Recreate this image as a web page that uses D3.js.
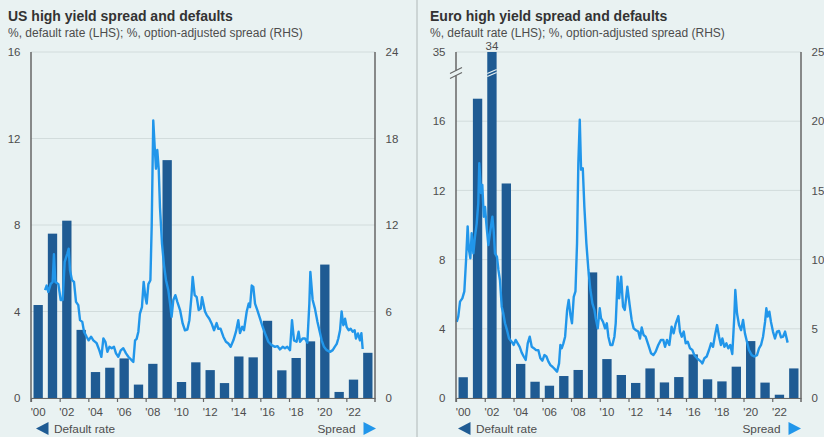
<!DOCTYPE html>
<html><head><meta charset="utf-8">
<script src="https://cdn.jsdelivr.net/npm/d3@7"></script>
<style>
html,body{margin:0;padding:0;background:#e9f2f2;}
svg{display:block;font-family:"Liberation Sans",Arial,sans-serif;}
</style></head><body>
<svg id="chart" width="824" height="437"></svg>
<script>
// ---------- DATA ----------
const years = [2000,2001,2002,2003,2004,2005,2006,2007,2008,2009,2010,2011,2012,2013,2014,2015,2016,2017,2018,2019,2020,2021,2022,2023];
const xTickYears = [2000,2002,2004,2006,2008,2010,2012,2014,2016,2018,2020,2022];
const xTickLabels = ["'00","'02","'04","'06","'08","'10","'12","'14","'16","'18","'20","'22"];

const usDefault = [4.3,7.6,8.2,3.15,1.2,1.4,1.83,0.62,1.58,11.0,0.74,1.65,1.29,0.69,1.92,1.88,3.57,1.28,1.85,2.62,6.17,0.28,0.85,2.09];
const euroDefault = [1.2,17.3,34,12.4,1.97,0.94,0.71,1.27,1.62,7.26,2.25,1.33,0.87,1.71,0.9,1.21,2.52,1.08,0.96,1.81,3.29,0.89,0.19,1.71];

// [decimal year, option-adjusted spread %]
const usSpread = [
[2000.98,7.48],[2001.09,7.8],[2001.21,7.36],[2001.37,7.9],[2001.51,8.05],[2001.60,9.97],[2001.70,8.05],[2001.91,7.9],
[2002.07,6.8],[2002.21,6.8],[2002.35,9.44],[2002.53,10.0],[2002.63,10.36],[2002.72,8.86],[2002.86,8.17],[2003.00,8.05],
[2003.14,6.67],[2003.30,6.44],[2003.42,5.4],[2003.58,5.28],[2003.70,4.6],[2003.88,4.25],[2004.02,4.0],[2004.19,4.25],
[2004.35,4.0],[2004.58,3.8],[2004.77,3.3],[2004.91,2.86],[2005.05,4.13],[2005.19,3.9],[2005.33,3.2],[2005.47,3.55],
[2005.63,3.45],[2005.79,3.55],[2005.93,3.1],[2006.09,2.86],[2006.26,3.3],[2006.44,3.45],[2006.63,3.1],[2006.79,2.86],
[2007.02,2.63],[2007.14,2.5],[2007.26,4.0],[2007.37,4.1],[2007.49,4.6],[2007.60,5.86],[2007.74,6.3],[2007.86,8.05],
[2007.98,7.0],[2008.07,6.55],[2008.19,7.9],[2008.33,8.17],[2008.42,11.9],[2008.53,19.25],[2008.63,17.4],[2008.72,15.9],
[2008.81,17.2],[2008.91,15.9],[2009.00,13.2],[2009.14,10.7],[2009.28,9.2],[2009.42,8.17],[2009.58,7.48],[2009.70,6.55],
[2009.81,5.63],[2009.93,6.8],[2010.07,7.13],[2010.21,6.67],[2010.40,6.1],[2010.58,5.17],[2010.74,4.7],[2010.91,4.75],
[2011.05,5.4],[2011.19,7.0],[2011.28,8.4],[2011.42,7.13],[2011.56,7.0],[2011.70,6.1],[2011.84,6.2],[2011.93,7.0],
[2012.14,6.0],[2012.26,5.75],[2012.44,5.5],[2012.60,5.17],[2012.77,4.7],[2012.95,5.2],[2013.07,4.8],[2013.23,4.8],
[2013.42,4.25],[2013.60,3.9],[2013.77,3.78],[2013.93,3.55],[2014.12,4.0],[2014.30,4.6],[2014.46,5.4],[2014.58,4.5],
[2014.74,4.94],[2014.86,4.7],[2015.05,6.0],[2015.19,6.55],[2015.28,6.3],[2015.40,7.8],[2015.51,7.7],[2015.63,6.55],
[2015.79,6.1],[2015.98,5.5],[2016.16,4.94],[2016.33,4.48],[2016.56,3.9],[2016.79,3.67],[2017.02,3.55],[2017.19,3.6],
[2017.37,3.37],[2017.56,3.55],[2017.72,3.45],[2017.88,3.55],[2018.07,3.32],[2018.21,5.4],[2018.35,4.0],[2018.53,3.9],
[2018.67,4.6],[2018.77,3.9],[2018.95,4.13],[2019.12,4.13],[2019.28,3.83],[2019.42,6.55],[2019.49,8.75],[2019.65,6.8],
[2019.81,6.2],[2019.98,5.3],[2020.12,4.7],[2020.28,4.0],[2020.44,3.55],[2020.63,3.32],[2020.86,3.2],[2021.05,3.32],
[2021.19,3.55],[2021.33,3.75],[2021.44,4.13],[2021.56,4.7],[2021.67,6.0],[2021.79,5.05],[2021.91,5.5],[2022.02,4.94],
[2022.16,4.7],[2022.30,4.8],[2022.44,4.6],[2022.58,4.7],[2022.67,4.13],[2022.81,4.48],[2022.95,4.0],[2023.05,4.5],[2023.14,3.4]
];

const euroSpread = [
[2000.05,5.5],[2000.16,5.9],[2000.28,6.96],[2000.44,7.2],[2000.58,7.7],[2000.70,9.97],[2000.81,12.4],[2000.90,10.7],
[2001.00,10.1],[2001.09,11.9],[2001.21,10.45],[2001.32,11.66],[2001.44,12.6],[2001.55,14.07],[2001.62,16.96],[2001.74,14.8],
[2001.83,15.4],[2001.93,13.1],[2002.02,13.8],[2002.11,12.6],[2002.25,11.05],[2002.39,12.1],[2002.53,13.1],[2002.62,12.1],
[2002.71,10.45],[2002.85,10.2],[2002.95,9.25],[2003.06,8.5],[2003.18,6.6],[2003.29,6.1],[2003.41,5.4],[2003.55,4.9],
[2003.69,4.3],[2003.87,4.07],[2004.01,3.83],[2004.15,4.2],[2004.29,3.95],[2004.43,3.7],[2004.57,3.28],[2004.71,3.0],
[2004.85,2.75],[2004.99,3.95],[2005.13,4.43],[2005.27,3.7],[2005.41,3.6],[2005.55,3.47],[2005.73,3.45],[2005.87,2.87],
[2006.01,2.7],[2006.15,3.1],[2006.29,3.0],[2006.43,2.63],[2006.57,2.38],[2006.71,2.26],[2006.89,2.07],[2007.03,1.9],
[2007.17,2.5],[2007.26,3.83],[2007.36,3.6],[2007.47,3.95],[2007.59,4.43],[2007.73,6.36],[2007.84,7.08],[2007.96,6.0],
[2008.07,5.4],[2008.19,7.3],[2008.31,7.7],[2008.42,11.17],[2008.51,16.96],[2008.61,20.1],[2008.70,16.5],[2008.82,16.6],
[2008.93,13.8],[2009.07,11.17],[2009.21,9.25],[2009.35,7.8],[2009.49,6.84],[2009.63,6.36],[2009.72,5.76],[2009.86,5.03],
[2010.00,6.48],[2010.09,5.76],[2010.23,5.5],[2010.37,5.03],[2010.49,5.4],[2010.60,4.43],[2010.74,3.83],[2010.88,3.83],
[2011.02,4.43],[2011.11,5.4],[2011.25,8.77],[2011.35,7.2],[2011.49,8.77],[2011.62,6.6],[2011.74,6.36],[2011.92,8.04],
[2012.08,6.72],[2012.22,5.64],[2012.36,5.03],[2012.52,4.9],[2012.68,4.8],[2012.80,4.3],[2012.92,5.1],[2013.05,4.55],
[2013.19,4.43],[2013.38,3.83],[2013.57,3.23],[2013.73,3.1],[2013.89,3.35],[2014.07,3.83],[2014.26,4.2],[2014.42,4.2],
[2014.54,3.7],[2014.68,4.2],[2014.84,3.83],[2015.00,5.15],[2015.14,4.67],[2015.28,5.35],[2015.47,5.92],[2015.58,4.8],
[2015.70,4.43],[2015.84,4.8],[2015.98,3.95],[2016.12,4.07],[2016.28,3.59],[2016.44,3.47],[2016.58,3.1],[2016.77,2.87],
[2016.90,2.75],[2017.04,2.63],[2017.14,2.5],[2017.28,2.87],[2017.44,3.0],[2017.60,3.47],[2017.74,3.95],[2017.88,3.7],
[2018.02,4.55],[2018.16,5.27],[2018.30,4.43],[2018.43,3.83],[2018.53,4.3],[2018.67,3.7],[2018.81,3.95],[2018.94,3.59],
[2019.08,3.83],[2019.22,3.18],[2019.36,5.88],[2019.43,7.8],[2019.55,6.1],[2019.69,5.27],[2019.83,4.9],[2019.97,5.64],
[2020.10,4.67],[2020.24,4.07],[2020.38,3.47],[2020.57,3.1],[2020.75,3.0],[2020.94,3.1],[2021.08,3.59],[2021.22,3.83],
[2021.36,4.43],[2021.50,5.5],[2021.59,6.48],[2021.68,5.88],[2021.80,6.24],[2021.91,5.5],[2022.05,4.8],[2022.19,4.3],
[2022.33,4.8],[2022.47,4.85],[2022.61,4.38],[2022.75,4.43],[2022.89,4.8],[2022.98,4.4],[2023.07,4.0]
];

const usLeftTicks = [0,4,8,12,16];
const usLeftTickLabels = ["0","4","8","12","16"];
const usRightTicks = [0,6,12,18,24];
const euroLeftTicks = [0,4,8,12,16,20];
const euroLeftTickLabels = ["0","4","8","12","16","35"];
const euroRightTicks = [0,5,10,15,20,25];

// ---------- STYLE ----------
const BG = "#e9f2f2", BAR = "#1f5b93", LINE = "#2196ea", AXIS = "#666", GRID = "#d2dcdc", TXT = "#4d4d4d";

const svg = d3.select("#chart");
svg.append("rect").attr("width",824).attr("height",437).attr("fill",BG);

// divider
svg.append("line").attr("x1",417).attr("x2",417).attr("y1",0).attr("y2",437)
  .attr("stroke","#b0b8b8").attr("stroke-width",1);

function panel(cfg){
  const g = svg.append("g");
  const top = 52, bot = 398;
  const xB = d3.scaleBand().domain(years).range([cfg.x0,cfg.x1]).paddingInner(0.35).paddingOuter(0.175);
  const xL = d3.scaleLinear().domain([2000,2024]).range([cfg.x0,cfg.x1]);
  const yL = d3.scaleLinear().domain([0,cfg.leftMax]).range([bot,top]);
  const yR = d3.scaleLinear().domain([0,cfg.rightMax]).range([bot,top]);

  // titles
  g.append("text").attr("x",cfg.tx).attr("y",21).attr("font-size",14).attr("font-weight","bold")
    .attr("fill","#333").text(cfg.title);
  g.append("text").attr("x",cfg.tx).attr("y",36.5).attr("font-size",12).attr("fill","#4d4d4d")
    .text("%, default rate (LHS); %, option-adjusted spread (RHS)");

  // gridlines
  g.append("g").selectAll("line").data(cfg.leftTicks).join("line")
    .attr("x1",cfg.x0).attr("x2",cfg.x1).attr("y1",d=>yL(d)).attr("y2",d=>yL(d))
    .attr("stroke",GRID).attr("stroke-width",1);

  // bars
  g.append("g").selectAll("rect").data(cfg.bars).join("rect")
    .attr("x",(d,i)=>xB(years[i])).attr("width",xB.bandwidth())
    .attr("y",d=>yL(Math.min(d,cfg.leftMax))).attr("height",d=>bot-yL(Math.min(d,cfg.leftMax)))
    .attr("fill",BAR);

  // line
  const line = d3.line().x(d=>xL(d[0])).y(d=>yR(d[1]));
  g.append("path").datum(cfg.spread).attr("d",line).attr("fill","none")
    .attr("stroke",LINE).attr("stroke-width",2.4).attr("stroke-linejoin","round");

  // left axis labels
  const la = g.append("g").attr("transform",`translate(${cfg.x0},0)`)
    .call(d3.axisLeft(yL).tickValues(cfg.leftTicks).tickFormat((d,i)=>cfg.leftLabels[i]).tickSize(0).tickPadding(10.5));
  la.select(".domain").remove();
  la.selectAll("text").attr("font-size",11.5).attr("fill",TXT).attr("font-family",null);
  // right axis labels
  const ra = g.append("g").attr("transform",`translate(${cfg.x1},0)`)
    .call(d3.axisRight(yR).tickValues(cfg.rightTicks).tickSize(0).tickPadding(10.5));
  ra.select(".domain").remove();
  ra.selectAll("text").attr("font-size",11.5).attr("fill",TXT).attr("font-family",null);

  // axis lines
  if(cfg.breakAxis){
    g.append("line").attr("x1",cfg.x0).attr("x2",cfg.x0).attr("y1",top).attr("y2",70.5).attr("stroke",AXIS).attr("stroke-width",1.5);
    g.append("line").attr("x1",cfg.x0).attr("x2",cfg.x0).attr("y1",75.5).attr("y2",402).attr("stroke",AXIS).attr("stroke-width",1.5);
    g.append("line").attr("x1",cfg.x0-6).attr("x2",cfg.x0+6).attr("y1",73.5).attr("y2",67.5).attr("stroke",AXIS).attr("stroke-width",1.2);
    g.append("line").attr("x1",cfg.x0-6).attr("x2",cfg.x0+6).attr("y1",78.5).attr("y2",72.5).attr("stroke",AXIS).attr("stroke-width",1.2);
    // break on the clipped bar
    cfg.bars.forEach((v,i)=>{
      if(v>cfg.leftMax){
        const bx = xB(years[i]), bw = xB.bandwidth();
        g.append("line").attr("x1",bx).attr("x2",bx+bw).attr("y1",73.5).attr("y2",69.5).attr("stroke",BG).attr("stroke-width",1.3);
        g.append("line").attr("x1",bx).attr("x2",bx+bw).attr("y1",76.5).attr("y2",72.5).attr("stroke",BG).attr("stroke-width",1.3);
        g.append("text").attr("x",bx+bw/2).attr("y",49.5).attr("text-anchor","middle")
          .attr("font-size",11.5).attr("fill",TXT).text(v);
      }
    });
  } else {
    g.append("line").attr("x1",cfg.x0).attr("x2",cfg.x0).attr("y1",top).attr("y2",402).attr("stroke",AXIS).attr("stroke-width",1.5);
  }
  g.append("line").attr("x1",cfg.x1).attr("x2",cfg.x1).attr("y1",top).attr("y2",402).attr("stroke",AXIS).attr("stroke-width",1.5);

  // x axis: baseline + ticks
  const xa = g.append("g").attr("transform",`translate(0,${bot})`)
    .call(d3.axisBottom(xL).tickValues(xTickYears).tickFormat("").tickSize(4).tickSizeOuter(0));
  xa.select(".domain").attr("stroke",AXIS).attr("stroke-width",1.2);
  xa.selectAll(".tick line").attr("stroke",AXIS).attr("stroke-width",1.2);
  // x labels at band centres
  const xl = g.append("g").attr("transform",`translate(0,${bot})`)
    .call(d3.axisBottom(xB).tickValues(xTickYears).tickFormat((d,i)=>xTickLabels[i]).tickSize(0).tickPadding(10));
  xl.select(".domain").remove();
  xl.selectAll("text").attr("font-size",11.5).attr("fill",TXT).attr("font-family",null);

  // legend
  const ly = 428.5;
  g.append("path").attr("d",`M${cfg.lgL},${ly} L${cfg.lgL+12.5},${ly-6.5} L${cfg.lgL+12.5},${ly+6.5} Z`).attr("fill",BAR);
  g.append("text").attr("x",cfg.lgL+18).attr("y",432.5).attr("font-size",11.8).attr("fill",TXT).text("Default rate");
  g.append("path").attr("d",`M${cfg.lgR},${ly} L${cfg.lgR-12.5},${ly-6.5} L${cfg.lgR-12.5},${ly+6.5} Z`).attr("fill",LINE);
  g.append("text").attr("x",cfg.lgR-20.5).attr("y",432.5).attr("text-anchor","end").attr("font-size",11.8).attr("fill",TXT).text("Spread");
}

panel({title:"US high yield spread and defaults", tx:8, x0:31, x1:375, leftMax:16, rightMax:24,
  leftTicks:usLeftTicks, leftLabels:usLeftTickLabels, rightTicks:usRightTicks,
  bars:usDefault, spread:usSpread, breakAxis:false, lgL:36, lgR:376});
panel({title:"Euro high yield spread and defaults", tx:430, x0:456, x1:801, leftMax:20, rightMax:25,
  leftTicks:euroLeftTicks, leftLabels:euroLeftTickLabels, rightTicks:euroRightTicks,
  bars:euroDefault, spread:euroSpread, breakAxis:true, lgL:458, lgR:801});
</script>
</body></html>
